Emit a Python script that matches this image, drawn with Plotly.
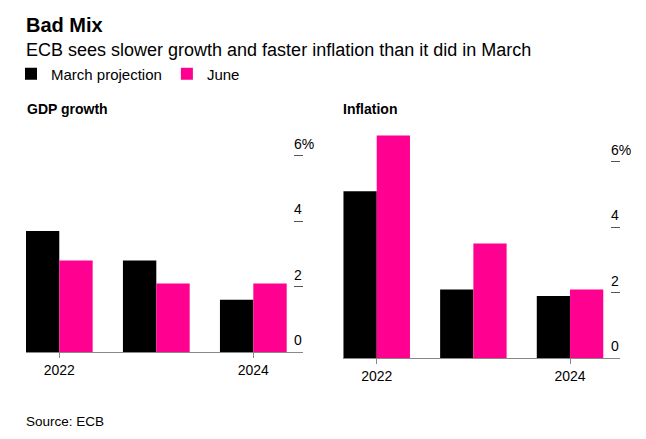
import plotly.graph_objects as go

# ---- data ----
years = [2022, 2023, 2024]
gdp_march = [3.7, 2.8, 1.6]
gdp_june = [2.8, 2.1, 2.1]
infl_march = [5.1, 2.1, 1.9]
infl_june = [6.8, 3.5, 2.1]
series_names = ["March projection", "June"]
x_tick_vals = [2022, 2024]
x_tick_text = ["2022", "2024"]
y_tick_vals = [0, 2, 4, 6]
y_tick_text = ["0", "2", "4", "6%"]

BLACK = "#000000"
PINK = "#ff0090"
FONT = "Liberation Sans, Arial, sans-serif"
OFF = 8            # default page body margin
W, H = 630, 423    # figure size (fits in the 646x439 window with the body margin)

def px_x(p):
    return (p - OFF) / W

def px_y(p):
    return (H - (p - OFF)) / H

fig = go.Figure()
fig.add_trace(go.Bar(x=years, y=gdp_march, name=series_names[0], marker=dict(color=BLACK, line=dict(width=0)),
                     xaxis="x", yaxis="y", legendgroup="m"))
fig.add_trace(go.Bar(x=years, y=gdp_june, name=series_names[1], marker=dict(color=PINK, line=dict(width=0)),
                     xaxis="x", yaxis="y", legendgroup="j"))
fig.add_trace(go.Bar(x=years, y=infl_march, name=series_names[0], marker=dict(color=BLACK, line=dict(width=0)),
                     xaxis="x2", yaxis="y2", legendgroup="m", showlegend=False))
fig.add_trace(go.Bar(x=years, y=infl_june, name=series_names[1], marker=dict(color=PINK, line=dict(width=0)),
                     xaxis="x2", yaxis="y2", legendgroup="j", showlegend=False))

def xaxis_cfg(domain, rng, anchor):
    return dict(domain=domain, range=rng, anchor=anchor, showline=True, linecolor="#888888", linewidth=1,
                ticks="outside", ticklen=5, tickcolor="#888888", tickwidth=1,
                tickvals=x_tick_vals, ticktext=x_tick_text, showgrid=False, zeroline=False,
                tickfont=dict(family=FONT, size=14, color="#000000"), fixedrange=True)

def yaxis_cfg(domain, rng, anchor):
    return dict(domain=domain, range=rng, anchor=anchor, side="right", showline=False, showgrid=False,
                zeroline=False, ticks="inside", ticklen=9, tickcolor="#555555", tickwidth=1,
                tickvals=y_tick_vals, ticktext=y_tick_text,
                tickfont=dict(family=FONT, size=14, color="#000000"),
                ticklabelshift=-12, ticklabelstandoff=-10, fixedrange=True)

fig.update_layout(
    width=W, height=H, autosize=False,
    margin=dict(l=0, r=0, t=0, b=0, autoexpand=False),
    paper_bgcolor="white", plot_bgcolor="white",
    barmode="group", bargap=0.312, bargroupgap=0,
    font=dict(family=FONT, color="#000000"),
    xaxis=xaxis_cfg([px_x(26), px_x(303)], [2021.657, 2024.512], "y"),
    yaxis=yaxis_cfg([px_y(352.3), px_y(139.3)], [0, 6.5], "x"),
    xaxis2=xaxis_cfg([px_x(342.7), px_x(620)], [2021.648, 2024.517], "y2"),
    yaxis2=yaxis_cfg([px_y(358.3), px_y(128.9)], [0, 7], "x2"),
    showlegend=True,
    legend=dict(orientation="h", x=px_x(11), xanchor="left", y=px_y(74), yanchor="middle",
                font=dict(family=FONT, size=15, color="#000000"), bgcolor="rgba(0,0,0,0)",
                itemclick=False, itemdoubleclick=False, traceorder="normal"),
)

annots = [
    dict(text="<b>Bad Mix</b>", x=px_x(24), y=px_y(12.5), size=20),
    dict(text="ECB sees slower growth and faster inflation than it did in March", x=px_x(24), y=px_y(37.5), size=18),
    dict(text="<b>GDP growth</b>", x=px_x(25), y=px_y(99), size=14),
    dict(text="<b>Inflation</b>", x=px_x(341), y=px_y(99), size=14),
    dict(text="Source: ECB", x=px_x(24), y=px_y(411.5), size=13.5),
]
for a in annots:
    fig.add_annotation(text=a["text"], x=a["x"], y=a["y"], xref="paper", yref="paper",
                       xanchor="left", yanchor="top", showarrow=False,
                       font=dict(family=FONT, size=a["size"], color="#000000"))

fig.write_html("out.html")
